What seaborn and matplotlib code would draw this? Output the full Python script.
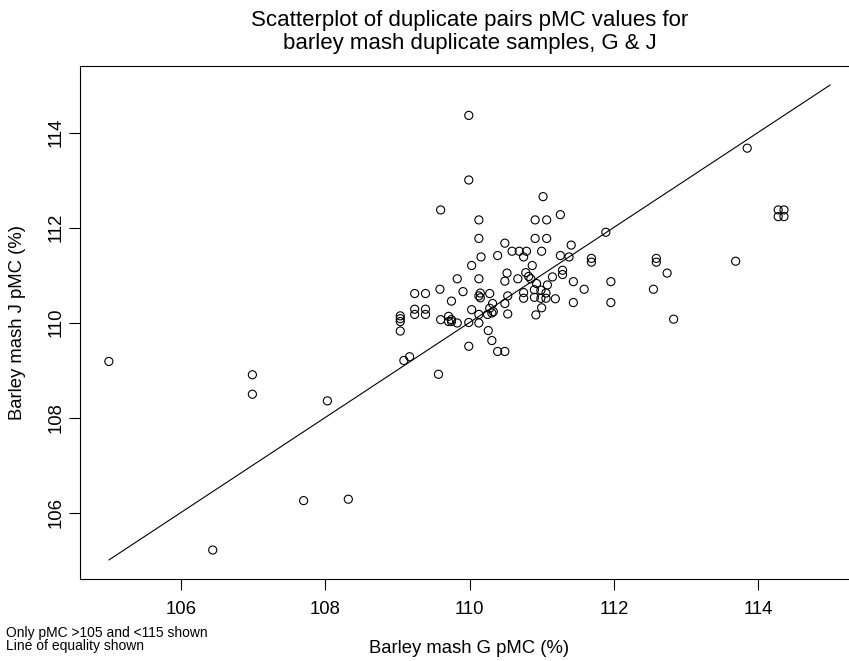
import matplotlib
matplotlib.use("Agg")
import matplotlib.pyplot as plt
import numpy as np
import pandas as pd
import seaborn as sns

# Duplicate pairs of barley mash pMC values (G vs J)
g_pmc = [
    105.00, 106.44, 106.99, 106.99, 107.70, 108.03, 108.32, 109.04, 109.04, 109.04,
    109.04, 109.09, 109.17, 109.24, 109.39, 109.24, 109.39, 109.24, 109.39, 109.57,
    109.59, 109.60, 109.60, 109.71, 109.75, 109.75, 109.71, 109.75, 109.83, 109.83,
    109.91, 109.99, 109.99, 109.99, 109.99, 110.03, 110.03, 110.13, 110.13, 110.16,
    110.13, 110.15, 110.13, 110.15, 110.13, 110.13, 110.26, 110.28, 110.28, 110.33,
    110.25, 110.31, 110.31, 110.32, 110.39, 110.39, 110.49, 110.49, 110.49, 110.49,
    110.52, 110.53, 110.53, 110.59, 110.67, 110.69, 110.75, 110.75, 110.75, 110.78,
    110.79, 110.82, 110.85, 110.87, 110.90, 110.90, 110.91, 110.91, 110.92, 110.93,
    110.99, 110.99, 111.00, 111.00, 111.02, 111.06, 111.06, 111.07, 111.07, 111.08,
    111.15, 111.19, 111.26, 111.26, 111.29, 111.29, 111.38, 111.41, 111.44, 111.44,
    111.59, 111.69, 111.69, 111.89, 111.96, 111.96, 112.55, 112.59, 112.59, 112.74,
    112.83, 113.69, 113.85, 114.28, 114.36, 114.28, 114.36,
]
j_pmc = [
    109.18, 105.21, 108.90, 108.49, 106.25, 108.35, 106.28, 110.14, 110.08, 110.02,
    109.82, 109.20, 109.28, 110.61, 110.61, 110.28, 110.28, 110.17, 110.17, 108.91,
    110.70, 110.06, 112.37, 110.13, 110.06, 110.02, 110.02, 110.45, 110.92, 109.99,
    110.65, 114.36, 113.00, 110.00, 109.50, 111.20, 110.27, 112.16, 111.77, 111.38,
    110.92, 110.62, 110.56, 110.52, 110.17, 109.99, 109.83, 110.61, 110.30, 110.23,
    110.17, 110.20, 109.62, 110.40, 111.41, 109.39, 111.67, 110.87, 110.40, 109.39,
    111.04, 110.56, 110.18, 111.50, 110.92, 111.50, 111.38, 110.63, 110.51, 111.05,
    111.50, 110.97, 110.92, 111.20, 110.69, 110.53, 112.16, 111.77, 110.16, 110.82,
    110.68, 110.51, 111.50, 110.31, 112.65, 110.62, 110.51, 112.16, 111.77, 110.79,
    110.96, 110.50, 112.27, 111.41, 111.10, 111.01, 111.38, 111.63, 110.86, 110.42,
    110.70, 111.35, 111.27, 111.90, 110.86, 110.42, 110.70, 111.35, 111.27, 111.04,
    110.07, 111.29, 113.67, 112.37, 112.37, 112.23, 112.23,
]

# Line of equality end points and axis ticks
equality = [105, 115]
axis_limits = [104.6, 115.4]
tick_values = [106, 108, 110, 112, 114]

title_text = "Scatterplot of duplicate pairs pMC values for\nbarley mash duplicate samples, G & J"
x_label = "Barley mash G pMC (%)"
y_label = "Barley mash J pMC (%)"
notes = ["Only pMC >105 and <115 shown", "Line of equality shown"]

sns.set_theme(style="ticks")
plt.rcParams["font.family"] = ["Liberation Sans", "DejaVu Sans"]

W, H = 849, 661
fig = plt.figure(figsize=(W / 100, H / 100), dpi=100)
fig.patch.set_facecolor("white")

# plot box: left 80px, top 66px, bottom 579px; right edge runs past the canvas
ax = fig.add_axes([80 / W, 1 - 579 / H, 779 / W, 513 / H])
ax.set_facecolor("white")

df = pd.DataFrame({"G": g_pmc, "J": j_pmc})
sns.scatterplot(data=df, x="G", y="J", ax=ax, marker="o", s=34, linewidth=0.8,
                legend=False)
for coll in ax.collections:
    coll.set_facecolor("none")
    coll.set_edgecolor("black")

sns.lineplot(x=equality, y=equality, ax=ax, color="black", linewidth=0.8)

ax.set_xlim(*axis_limits)
ax.set_ylim(*axis_limits)
ax.set_xticks(tick_values)
ax.set_yticks(tick_values)
ax.set_xlabel("")
ax.set_ylabel("")

for side in ["left", "right", "top", "bottom"]:
    ax.spines[side].set_visible(True)
    ax.spines[side].set_color("black")
    ax.spines[side].set_linewidth(0.8)

ax.tick_params(axis="both", direction="out", length=7.9, width=0.8, color="black",
               labelsize=13.3, labelcolor="black")
ax.tick_params(axis="x", pad=8)
ax.tick_params(axis="y", pad=3, labelrotation=90)
for lbl in ax.get_yticklabels():
    lbl.set_verticalalignment("center")

# titles and annotations
fig.text(469.5 / W, 1 - 32 / H, title_text, ha="center", va="center", fontsize=16,
         linespacing=1.18, color="black")
fig.text(469.5 / W, 1 - 653 / H, x_label, ha="center", va="baseline",
         fontsize=13.3, color="black")
fig.text(18 / W, 1 - 322.5 / H, y_label, ha="center", va="center", rotation=90,
         fontsize=13.3, color="black")
fig.text(6 / W, 1 - 653 / H, "\n".join(notes), ha="left", va="bottom",
         fontsize=10, linespacing=0.88, color="black")

fig.savefig("out.png", dpi=100, facecolor="white")
